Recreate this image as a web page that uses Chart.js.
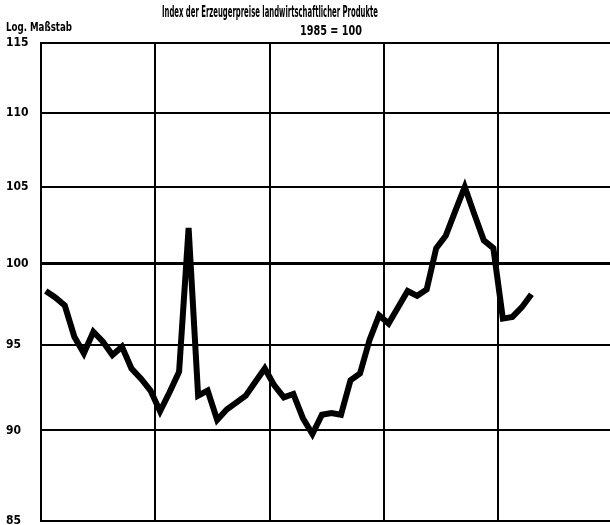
<!DOCTYPE html>
<html>
<head>
<meta charset="utf-8">
<script src="https://cdn.jsdelivr.net/npm/chart.js@4/dist/chart.umd.min.js"></script>
<style>
  html, body { margin: 0; padding: 0; background: #fff; }
  canvas { display: block; }
</style>
</head>
<body>
<canvas id="priceChart" width="610" height="525"></canvas>
<script>
// =========================
// Data (monthly index, 1985 = 100)
// =========================
const titleText = 'Index der Erzeugerpreise landwirtschaftlicher Produkte';
const subtitleText = '1985 = 100';
const axisNote = 'Log. Maßstab';

const yTicks = [85, 90, 95, 100, 105, 110, 115];
const yearStarts = [0, 12, 24, 36, 48, 60];

const indexValues = [
    98.3, 97.9, 97.4, 95.5, 94.5, 95.8, 95.2, 94.4, 94.9, 93.6, 93.0, 92.3,
    91.1, 92.2, 93.4, 102.3, 92.0, 92.3, 90.6, 91.2, 91.6, 92.0, 92.8, 93.6,
    92.6, 91.9, 92.1, 90.7, 89.8, 90.9, 91.0, 90.9, 92.9, 93.3, 95.3, 96.8,
    96.3, 97.3, 98.3, 98.0, 98.4, 101.0, 101.8, 103.4, 105.0, 103.2, 101.5, 101.0,
    96.6, 96.7, 97.3, 98.1
];

// =========================
// Texts above the plot
// =========================
const headerText = {
    id: 'headerText',
    afterDraw(chart) {
        const c = chart.ctx;
        c.save();
        c.fillStyle = '#000';
        c.textBaseline = 'middle';
        c.textAlign = 'center';
        c.font = 'bold 15px "DejaVu Sans Condensed", "DejaVu Sans", sans-serif';
        c.fillText(titleText, 270, 13, 216);
        c.font = 'bold 14px "DejaVu Sans Condensed", "DejaVu Sans", sans-serif';
        c.fillText(subtitleText, 331, 31, 62);
        c.textAlign = 'left';
        c.font = 'bold 12px "DejaVu Sans Condensed", "DejaVu Sans", sans-serif';
        c.fillText(axisNote, 6, 28, 66);
        c.restore();
    }
};

const points = indexValues.map((v, i) => ({ x: i + 0.5, y: v }));

Chart.defaults.color = '#000';

new Chart(document.getElementById('priceChart').getContext('2d'), {
    type: 'line',
    data: {
        datasets: [{
            data: points,
            borderColor: '#000',
            borderWidth: 6,
            borderJoinStyle: 'miter',
            pointRadius: 0,
            tension: 0,
            fill: false
        }]
    },
    options: {
        responsive: false,
        animation: false,
        devicePixelRatio: 1,
        layout: { padding: { top: 43, left: 6, right: 0, bottom: 2 } },
        plugins: { legend: { display: false }, tooltip: { enabled: false }, title: { display: false } },
        scales: {
            x: {
                type: 'linear',
                min: 0,
                max: 59.75,
                afterBuildTicks: scale => { scale.ticks = yearStarts.map(v => ({ value: v })); },
                ticks: { display: false },
                grid: { color: '#000', lineWidth: 2, drawTicks: false },
                border: { display: false }
            },
            y: {
                type: 'logarithmic',
                min: 85,
                max: 115,
                afterBuildTicks: scale => { scale.ticks = yTicks.map(v => ({ value: v })); },
                afterFit: scale => { scale.width = 35; },
                ticks: {
                    crossAlign: 'far',
                    autoSkip: false,
                    font: { family: '"DejaVu Sans Condensed", "DejaVu Sans", sans-serif', size: 12, weight: 'bold', lineHeight: 0.2 },
                    callback: v => String(v)
                },
                grid: {
                    color: '#000',
                    lineWidth: ctx => (ctx.tick && ctx.tick.value === 100 ? 3 : 2),
                    drawTicks: false
                },
                border: { display: true, color: '#000', width: 2 }
            }
        }
    },
    plugins: [headerText]
});
</script>
</body>
</html>
